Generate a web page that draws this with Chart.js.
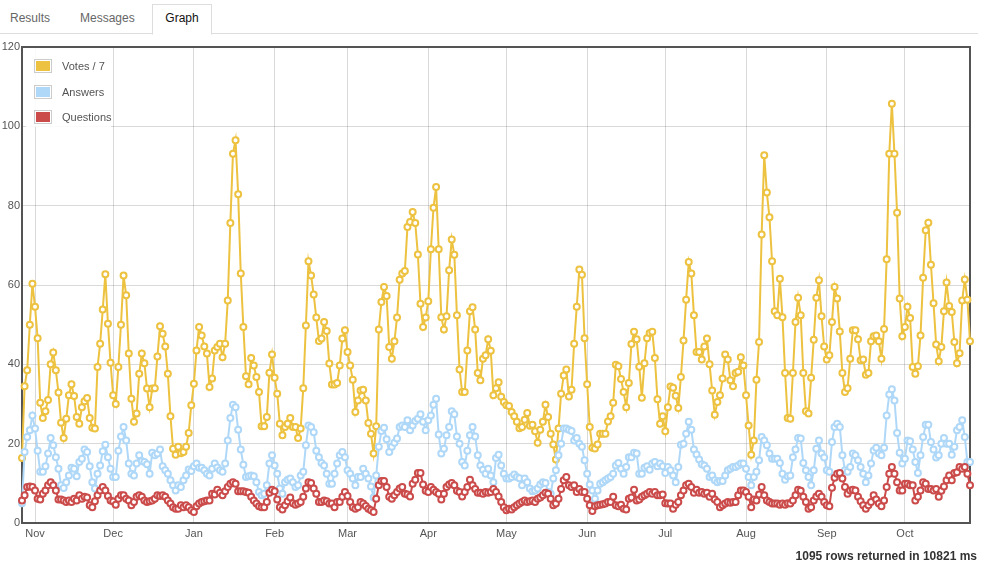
<!DOCTYPE html>
<html><head><meta charset="utf-8">
<script src="https://cdn.jsdelivr.net/npm/chart.js@4/dist/chart.umd.min.js"></script>
<style>
html,body{margin:0;padding:0;background:#fff;width:984px;height:569px;overflow:hidden;font-family:"Liberation Sans",Arial,sans-serif;}
.tabbar{position:absolute;left:0;top:0;width:978px;height:33px;border-bottom:1px solid #ddd;}
.tab{position:absolute;top:11px;font-size:12px;line-height:14px;color:#666;}
.tab.active{top:4px;left:152px;width:58px;height:29px;border:1px solid #ddd;border-bottom:1px solid #fff;background:#fff;color:#111;text-align:center;line-height:27px;box-sizing:content-box;}
#wrap{position:absolute;left:0;top:36px;width:984px;height:520px;}
.legend{position:absolute;left:26px;top:48px;width:85px;height:79px;background:rgba(255,255,255,0.85);}
.li{position:absolute;left:8px;height:14px;}
.sw{position:absolute;left:0;top:0;width:14px;height:10px;border:1px solid #ccc;padding:1px;}
.sw div{width:14px;height:10px;}
.lt{position:absolute;left:28px;top:0;font-size:11px;line-height:14px;color:#545454;white-space:nowrap;}
.footer{position:absolute;right:7px;top:549px;font-size:12px;line-height:14px;font-weight:bold;color:#333;}
</style></head>
<body>
<div class="tabbar"></div>
<div class="tab" style="left:10px">Results</div>
<div class="tab" style="left:80px">Messages</div>
<div class="tab active">Graph</div>
<div id="wrap"><canvas id="c" width="984" height="520"></canvas></div>
<div class="legend">
  <div class="li" style="top:11px"><div class="sw"><div style="background:#edc240"></div></div><div class="lt">Votes / 7</div></div>
  <div class="li" style="top:37px"><div class="sw"><div style="background:#afd8f8"></div></div><div class="lt">Answers</div></div>
  <div class="li" style="top:62px"><div class="sw"><div style="background:#cb4b4b"></div></div><div class="lt">Questions</div></div>
</div>
<div class="footer">1095 rows returned in 10821 ms</div>
<script>
const seriesNames = ['Votes / 7', 'Answers', 'Questions'];
const monthNames = ['Jan','Feb','Mar','Apr','May','Jun','Jul','Aug','Sep','Oct','Nov','Dec'];
const yTicks = [0, 20, 40, 60, 80, 100, 120];

const votes = [
16.4,34.5,38.5,50,60.3,54.5,46.6,30.3,26.5,28.2,
31,40,43,38.5,32.9,25.3,21.4,26.3,32.2,35,
32,26.7,25,29.2,30.7,31.5,26.5,24,23.8,39.3,
45.2,53.8,62.7,50.2,40.4,32.2,30,39.3,50,62.4,
57.4,42.7,31.3,25.5,27.6,37.6,42.7,40.3,33.9,29.2,
33.9,34,42,49.6,47.7,44.5,37.6,26.9,18.7,17.2,
19.2,17.6,17.9,19.2,22.7,29.7,35.1,43.5,49.4,47.3,
44.5,42.7,34.3,36.4,43.5,44.4,45.2,41.8,45.2,56.1,
75.6,93.1,96.5,82.9,62.9,49.4,37,35,41.6,39.7,
36.8,33,24.4,24.4,26.7,37.9,42.5,36.6,32.6,25,
22.1,24.2,25,26.5,24.2,24.2,21.4,23.8,34,49.8,
66,62.4,57.6,51.8,45.9,46.5,50.7,48.4,40.2,34.9,
34.9,35.3,39.7,46.5,48.6,43.1,39.7,36.1,28,30.9,
33.4,33.6,30.9,25.2,22.5,17.5,24.4,48.8,55.7,59.5,
57.2,44.4,41.4,45.8,51.8,61.3,62.9,63.5,74.6,75.9,
78.4,75.6,67.7,55.3,49.4,51.8,55.9,69,79.5,84.7,
69,51.9,48.8,52.1,63.7,71.5,67.6,52.4,38.7,33,
33,43.5,53.4,54.4,48.8,37.8,36,41.4,42.3,46.3,
43.4,32.2,34,35.5,31.8,30.5,29.7,29.5,28,26.9,
25.5,23.9,24.2,26,27.7,24.5,24.8,23.1,20.2,23.5,
25.5,29.8,26.7,22.5,19.8,16,23.8,32.6,37.2,38.7,
31.9,33.6,45.2,54.5,63.9,62.6,46.6,35,24.2,19,
18.8,19.8,22.5,22.5,22.5,25.6,26.9,30.3,39.9,39.5,
36.3,33,29.2,35.3,45.1,48.2,46.3,39.4,31.6,40.3,
46.6,47.9,48.2,41.6,31.2,25,26.9,23.1,29.2,34.4,
34.1,32.1,29,36.8,46,56.3,65.8,62.9,52.4,43.1,
43.1,41.2,44.5,46.5,40,33.4,27.3,30.5,32.2,36.4,
42.5,41.2,36,34.5,37.8,38.1,41.8,39.7,32.2,24.6,
17.2,20.8,36.1,45.6,72.7,92.7,83.3,77.1,66,53.4,
52.4,61.6,51.9,37.8,26.5,26.3,37.8,50.7,56.8,52.4,
37.8,28.2,27.6,36.6,46.2,56.8,61.2,52.1,44.5,41.2,
42.3,50.7,59.5,56.6,48.3,37.8,33,34,41.4,48.6,
48.6,46.3,41,41.2,37.4,37.8,45.8,47.1,47.3,45.8,
41.4,48.9,66.5,93.1,105.7,93.1,78.2,56.6,47.1,49.4,
54.5,51.7,39.3,37.6,39.5,47.3,61.8,73.8,75.7,65.1,
55.4,45,40.8,44.4,53.4,60.6,54.7,53.2,45.6,40.3,
42.8,56.1,61.4,56.3,45.8
];

const answers = [
5,17.9,21.7,23.4,27.1,23.8,18.2,12.9,12.9,14.3,
17.5,21.4,19.6,16.6,13.7,9.5,8.8,10.3,12,13.9,
13.7,11.8,15.4,16.2,18.5,17.9,14.3,10.3,8.7,12.4,
14.5,18.1,19.7,16.6,13.7,11.6,11.6,18.2,21.8,24.2,
20.8,15,12.4,12,15,17.1,15.6,15.4,14.8,12.4,
17.7,17.1,17.5,18.5,14.3,13.3,12.4,10.8,9.5,8.2,
9.5,9.1,10.8,12,13.5,13.1,14.3,15,13.9,13.9,
13.3,12.4,12,13.7,15,14,13.3,12.9,15,20.8,
26.5,29.8,29.2,23.5,18.5,14.7,11.6,11.8,12,11.8,
10.3,7.8,7,7.4,9.5,15,17.1,14.5,12.4,8.7,
7.4,10.3,10.9,11.2,10.3,9.1,9.5,12,12.9,19.6,
24.6,24.2,22.9,18.2,16.6,15.1,14.5,12.4,9.9,9.9,
12.4,15,17.1,17.9,16.6,13.3,12.4,11.2,9.5,11.6,
11.6,13.7,12.4,11.2,9.2,6.4,12,19.2,23.2,24,
21.1,17.9,19.2,20.2,21.3,24.2,24.6,24.2,25.9,23.4,
24.6,25.7,26.3,27.4,25.5,23.4,25.9,27.1,29.8,31.3,
22.3,17.5,18.7,22.1,24.2,28.2,27.4,21.8,20,15.4,
14.5,18.2,22.1,24.2,21.8,17.1,14.5,13.4,12.4,13.7,
12,10.3,16.4,17.2,14.5,12.4,11.2,11.2,11.6,12.2,
11.6,11.3,9.5,11.2,10.3,8.7,8,8.2,8.7,9.7,
10.3,10.1,7.8,7.4,11.2,13.3,17.1,20,23.8,23.8,
23.5,23.2,20.8,21.4,20,19.2,15.8,12.4,9.7,8.2,
6.1,8.2,9.9,10.3,10.8,11.2,11.6,12.4,14.5,15.1,
13.7,12.4,14.1,16.6,16.6,17.7,17.5,12.4,12.4,13.9,
14.3,13.4,15,15.4,14.3,15,14.3,12.6,14.1,13.3,
12,10.3,14.1,19.7,20,22.5,25.5,23.5,18.5,17.3,
16,14.8,14.5,13.7,11.6,12,10.8,10.3,10.6,10.6,
12,13.3,13.7,14.1,14.1,14.5,15,15,13.7,11.6,
9.5,11.6,12.9,15.8,21.7,20.8,19.6,17.5,16.2,16.2,
16.2,15.1,12.4,10.9,11.8,12,16.6,18.5,21.4,21.3,
15.1,13.3,11.6,9.5,13.3,18.7,20.8,17.5,16.5,13.3,
12.9,20.4,24.2,25,24.2,17.1,13.3,12.9,14.1,17.5,
17.1,15.8,14.1,12.4,10.3,12,15,18.3,19,17.5,
17.1,19,27.1,32.4,33.7,30.9,22.7,17.7,15,16.2,
20.8,20.6,18.5,15.4,12.6,17.1,21.7,24.8,24.8,20.4,
18.5,16.5,17.1,20,21.4,20,20,17.2,19.2,23.4,
24.2,25.9,21.7,15.4,15.4
];

const questions = [
5.7,7,9.1,9.2,9.1,8.2,6.1,5.9,7.4,8.2,
9.5,10.3,9.5,8.2,5.9,5.9,5.7,5.3,5.7,5.3,
6.1,5.7,7,6.1,6.6,6.4,4.5,4,5.5,7,
8.2,9.1,8.2,6.8,5.7,5.4,4.6,6.1,7,7,
6.1,5.7,4.5,5.3,6.6,7,6.6,5.7,5.3,5.5,
5.7,6.1,7,6.8,7,6.6,5.7,4.9,4,3.6,
3.6,4.5,4,4.5,4,3.2,2.8,4.2,4.9,5.3,
5.5,5.7,5.7,7.4,7.2,8.4,7.6,7,8,9.1,
9.9,10.3,9.9,8,8,8,7.8,7.6,6.6,5.7,
4.9,4.2,4,4,5.3,7.6,8.4,8,5.9,4,
3.4,4.5,5.5,6.4,5,4.6,4.9,5.3,6.6,8.7,
10.3,10.1,8.7,7.4,5.3,5.3,5.7,5.5,4.9,4.9,
4,5.3,5.3,6.6,7.8,6.8,5.3,4,3.6,4,
5.3,4.9,4.3,3.6,3.2,2.8,6.1,9.5,10.6,10.6,
9.1,6.6,6.1,7,7.8,8.7,9.1,7.4,7.2,6.7,
9.9,10.9,12.6,12.6,9.7,8.1,7.8,9.1,8.4,7.8,
7.4,5.9,7.4,9.1,9.7,10.1,9.5,8.1,7.8,6.7,
7.8,9.1,10.9,9.5,8.6,7.6,7.6,7.4,7.8,7.6,
7.8,8.6,7.8,6.7,5.3,4,3.2,3.6,3.4,4,
4.5,4.9,5.3,5.7,5.3,5.5,5.7,5.3,6.1,6.4,
7,7.6,7.4,6.1,4.5,4.9,6.1,8.6,10.8,11.6,
9.5,9.1,9.5,7.8,8.6,7.8,7.8,6.1,4.5,3,
4.2,4.5,4.6,4.7,4.9,5.3,5.3,6.6,4.5,4.2,
4.6,3.6,3.4,6.1,6.4,8.4,5.7,5.9,6.6,7,
7.4,7.8,7.4,7.8,7,7,7.2,5,4.9,4.9,
3.6,4.6,5.3,7,8.2,9.5,9.9,9.1,7.6,8.4,
7.6,7.8,7.4,7.6,6.6,7.4,5.9,5.3,4,4.5,
4.9,5.3,5.1,5.3,5.3,7,8.2,8.2,7.8,6.6,
4,5.9,5.7,7.2,9.1,7,5.7,5.3,4.9,4.9,
4.9,4.6,4.9,4.6,5,4.9,5.7,7,8.4,8.1,
6.6,5.3,3.6,4,5.7,6.7,7.4,6.6,5.3,4.5,
4.2,8.9,11.4,12.4,12.6,11.2,9.1,7.4,8.2,8.4,
8.2,6.6,5.5,4.5,3.6,4.5,5.3,7,5.9,4.9,
4.2,5.7,9.1,12.4,14.1,12.4,10.3,8.2,8.2,9.9,
9.9,9.5,9.5,5.7,6.6,8.2,10.3,9.9,8.6,8.6,
8.2,8.6,6.6,8.1,9.2,10.8,12,10.8,12.6,12.8,
14.1,13.7,14.1,12.4,9.5
];

// Daily categories: one per row day, starting 27 Oct
const startDate = Date.UTC(2010, 9, 27);
const categories = Array.from({length: votes.length}, (_, i) =>
  new Date(startDate + i * 86400000).toISOString().slice(0, 10));

const isMonthStart = (i) => categories[i] && categories[i].slice(8) === '01';
const monthLabel = (i) => monthNames[parseInt(categories[i].slice(5, 7), 10) - 1];

const FONT = '"Liberation Sans", Arial, sans-serif';
const GRID = 'rgba(84,84,84,0.22)';

const framePlugin = {
  id: 'frame',
  beforeDatasetsDraw(chart) {
    const a = chart.chartArea, c = chart.ctx;
    c.save();
    c.strokeStyle = '#545454';
    c.lineWidth = 2;
    c.strokeRect(a.left, a.top, a.right - a.left, a.bottom - a.top);
    c.restore();
  }
};

function ds(label, data, color, order) {
  return {
    label, data, order,
    borderColor: color, backgroundColor: color,
    pointBackgroundColor: '#fff', pointBorderColor: color,
    borderWidth: 2, pointRadius: 3, pointBorderWidth: 2,
    tension: 0, clip: false, fill: false
  };
}

new Chart(document.getElementById('c'), {
  type: 'line',
  data: {
    labels: categories,
    datasets: [
      ds(seriesNames[0], votes, '#edc240', 3),
      ds(seriesNames[1], answers, '#afd8f8', 2),
      ds(seriesNames[2], questions, '#cb4b4b', 1)
    ]
  },
  options: {
    responsive: false,
    animation: false,
    events: [],
    layout: { padding: { top: 11, right: 14, left: 0, bottom: 0 } },
    plugins: { legend: { display: false }, tooltip: { enabled: false } },
    scales: {
      x: {
        type: 'category',
        offset: false,
        afterBuildTicks(s) { s.ticks = s.ticks.filter(t => isMonthStart(t.value)); },
        afterFit(s) { s.height = 33; },
        ticks: {
          autoSkip: false, maxRotation: 0, minRotation: 0, padding: 4,
          color: '#545454', font: { size: 11, family: FONT },
          callback(v) { return monthLabel(v); }
        },
        grid: { color: GRID, drawTicks: false, lineWidth: 1 },
        border: { display: false }
      },
      y: {
        min: yTicks[0], max: yTicks[yTicks.length - 1],
        afterBuildTicks(s) { s.ticks = yTicks.map(v => ({ value: v })); },
        afterFit(s) { s.width = 22; },
        ticks: { padding: 2, color: '#545454', font: { size: 11, family: FONT } },
        grid: { color: GRID, drawTicks: false, lineWidth: 1 },
        border: { display: false }
      }
    }
  },
  plugins: [framePlugin]
});
</script>
</body></html>
